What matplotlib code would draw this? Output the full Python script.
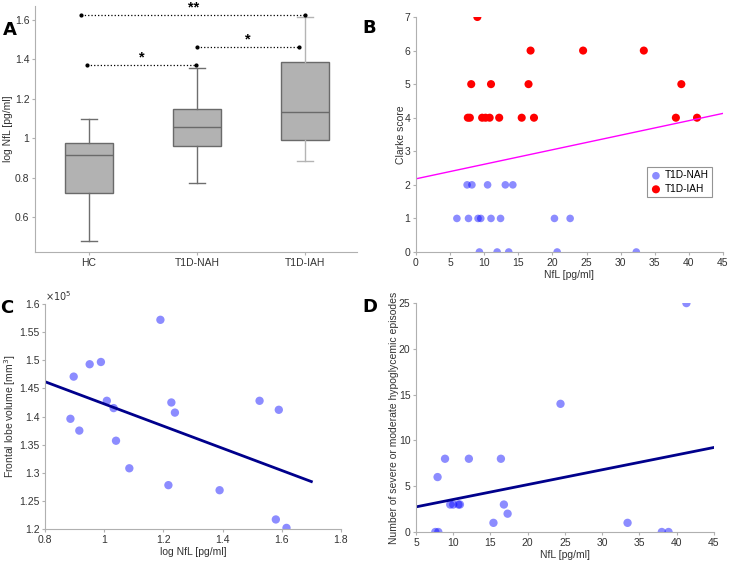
"""
NfL figure: boxplot (A), Clarke score (B), frontal lobe volume (C), hypo episodes (D)
"""
import numpy as np
import matplotlib
matplotlib.use("Agg")
from matplotlib import pyplot as plt
from matplotlib.ticker import FuncFormatter

plt.rcParams.update({'font.family': ['Liberation Sans', 'DejaVu Sans']})
plt.rcParams.update({'font.size': 7.5})
plt.rcParams.update({'axes.edgecolor': '#b0b0b0'})
plt.rcParams.update({'xtick.color': '#b0b0b0', 'ytick.color': '#b0b0b0'})
plt.rcParams.update({'xtick.labelcolor': '#333333', 'ytick.labelcolor': '#333333'})
plt.rcParams.update({'xtick.major.size': 2.5, 'ytick.major.size': 2.5})
plt.rcParams.update({'xtick.major.pad': 2, 'ytick.major.pad': 1.5})
plt.rcParams.update({'axes.labelcolor': '#333333', 'axes.labelpad': 2})

# ---- panel A: log NfL per group
groups = ['HC', 'T1D-NAH', 'T1D-IAH']
q1 = [0.72, 0.96, 0.99]
med = [0.915, 1.055, 1.135]
q3 = [0.975, 1.15, 1.385]
wlo = [0.48, 0.775, 0.885]
whi = [1.095, 1.355, 1.615]
whisker_grey = ['#6e6e6e', '#6e6e6e', '#b4b4b4']
# significance bars: (x start, x end, y, label)
sig_x0 = [0.98, 2.0, 0.93]
sig_x1 = [1.99, 2.94, 3.0]
sig_y = [1.37, 1.46, 1.625]
sig_lab = ['*', '*', '**']

# ---- panel B: Clarke score vs NfL
nah_nfl = [7.5, 8.2, 10.5, 13.1, 14.2,
           6.0, 7.7, 9.1, 9.5, 11.0, 12.4, 20.3, 22.6,
           9.3, 11.9, 13.6, 20.7, 32.3]
nah_clarke = [2, 2, 2, 2, 2,
              1, 1, 1, 1, 1, 1, 1, 1,
              0, 0, 0, 0, 0]
iah_nfl = [9.0,
           16.8, 24.5, 33.4,
           8.1, 11.0, 16.5, 38.9,
           7.6, 7.9, 9.7, 10.2, 10.8, 12.2, 15.5, 17.3, 38.1, 41.2]
iah_clarke = [7,
              6, 6, 6,
              5, 5, 5, 5,
              4, 4, 4, 4, 4, 4, 4, 4, 4, 4]
fit_b = [2.18, 0.0433]   # intercept, slope

# ---- panel C: frontal lobe volume vs log NfL
log_nfl_c = [1.19, 0.989, 0.951, 0.897, 1.009, 1.032, 0.886, 0.916, 1.040,
             1.085, 1.227, 1.239, 1.217, 1.390, 1.525, 1.590, 1.580, 1.616]
volume_c = [1.572, 1.497, 1.493, 1.471, 1.428, 1.415, 1.396, 1.375, 1.357,
            1.308, 1.425, 1.407, 1.278, 1.269, 1.428, 1.412, 1.217, 1.202]
volume_c = [v * 1e5 for v in volume_c]
fit_c = [1.6198e5, -0.1973e5]
fit_c_range = [0.8, 1.7]

# ---- panel D: hypoglycemic episodes vs NfL
nfl_d = [41.3, 24.4, 8.9, 12.1, 16.4, 7.9, 9.6, 10.0, 10.7, 10.9,
         16.8, 17.3, 15.4, 33.4, 7.6, 8.0, 38.0, 38.9]
episodes_d = [25, 14, 8, 8, 8, 6, 3, 3, 3, 3,
              3, 2, 1, 1, 0, 0, 0, 0]
fit_d = [1.93, 0.1623]
fit_d_range = [5, 45]

blue = (0.0, 0.0, 1.0, 0.45)
navy = (0.0, 0.0, 0.55)

fig = plt.figure(figsize=(7.29, 5.61), dpi=100)
axA = fig.add_axes([0.048, 0.551, 0.4417, 0.4385])
axB = fig.add_axes([0.5706, 0.5508, 0.4211, 0.4189])
axC = fig.add_axes([0.0617, 0.057, 0.406, 0.401])
axD = fig.add_axes([0.5706, 0.0517, 0.4088, 0.408])

for ax in (axA, axB, axC, axD):
    ax.spines['top'].set_visible(False)
    ax.spines['right'].set_visible(False)

# A
stats = [{'q1': q1[i], 'med': med[i], 'q3': q3[i], 'whislo': wlo[i],
          'whishi': whi[i], 'fliers': [], 'label': groups[i]} for i in range(3)]
pos = np.arange(1, 4)
bp = axA.bxp(stats, positions=pos, widths=0.45, patch_artist=True,
             showfliers=False, showcaps=True,
             boxprops={'facecolor': '#b2b2b2', 'edgecolor': '#6a6a6a', 'linewidth': 1},
             medianprops={'color': '#6a6a6a', 'linewidth': 1})
for i in range(3):
    for ln in bp['whiskers'][2 * i:2 * i + 2] + bp['caps'][2 * i:2 * i + 2]:
        ln.set_color(whisker_grey[i])
        ln.set_linewidth(1)
    bp['caps'][2 * i].set_xdata([pos[i] - 0.075, pos[i] + 0.075])
    bp['caps'][2 * i + 1].set_xdata([pos[i] - 0.075, pos[i] + 0.075])
for x0, x1, y, lab in zip(sig_x0, sig_x1, sig_y, sig_lab):
    axA.plot([x0, x1], [y, y], ':', color='k', lw=0.9, marker='.', markersize=4)
    axA.text((x0 + x1) / 2, y + 0.004, lab, ha='center', va='bottom',
             fontsize=10.5, fontweight='bold')
axA.set_xlim(0.5, 3.48)
axA.set_ylim(0.424, 1.67)
axA.set_yticks([0.6, 0.8, 1.0, 1.2, 1.4, 1.6])
axA.set_yticklabels(['0.6', '0.8', '1', '1.2', '1.4', '1.6'])
axA.set_ylabel('log NfL [pg/ml]', labelpad=1)

# B
axB.scatter(nah_nfl, nah_clarke, s=30, color=blue, edgecolors='none', label='T1D-NAH')
axB.scatter(iah_nfl, iah_clarke, s=34, color='red', edgecolors='none', label='T1D-IAH')
xb = np.array([0, 45])
axB.plot(xb, fit_b[0] + fit_b[1] * xb, color='magenta', lw=1)
axB.set_xlim(0, 45)
axB.set_ylim(0, 7)
axB.set_xticks(np.arange(0, 46, 5))
axB.set_yticks(np.arange(0, 8))
axB.set_xlabel('NfL [pg/ml]', labelpad=1)
axB.set_ylabel('Clarke score', labelpad=-1)
leg = axB.legend(loc='lower left', bbox_to_anchor=(0.752, 0.234), fontsize=7.3,
                 frameon=True, fancybox=False, handletextpad=0.3,
                 borderpad=0.3, borderaxespad=0, handlelength=1.2,
                 labelspacing=0.35)
leg.get_frame().set_edgecolor('#7a7a7a')
leg.get_frame().set_linewidth(0.8)

# C
axC.scatter(log_nfl_c, volume_c, s=36, color=blue, edgecolors='none')
xc = np.array(fit_c_range)
axC.plot(xc, fit_c[0] + fit_c[1] * xc, color=navy, lw=2)
axC.set_xlim(0.8, 1.8)
axC.set_ylim(1.2e5, 1.6e5)
axC.set_xticks([0.8, 1.0, 1.2, 1.4, 1.6, 1.8])
axC.set_xticklabels(['0.8', '1', '1.2', '1.4', '1.6', '1.8'])
axC.set_yticks(np.arange(1.2e5, 1.6001e5, 0.05e5))
axC.yaxis.set_major_formatter(FuncFormatter(lambda v, _: f"{v / 1e5:g}"))
axC.text(0.0, 1.005, r'$\times10^5$', transform=axC.transAxes, fontsize=7,
         color='#333333', ha='left', va='bottom')
axC.set_xlabel('log NfL [pg/ml]', labelpad=1)
axC.set_ylabel(r'Frontal lobe volume [mm$^3$]', labelpad=1)

# D
axD.scatter(nfl_d, episodes_d, s=36, color=blue, edgecolors='none')
xd = np.array(fit_d_range)
axD.plot(xd, fit_d[0] + fit_d[1] * xd, color=navy, lw=2)
axD.set_xlim(5, 45)
axD.set_ylim(0, 25)
axD.set_xticks(np.arange(5, 46, 5))
axD.set_yticks(np.arange(0, 26, 5))
axD.set_xlabel('NfL [pg/ml]', labelpad=1)
axD.set_ylabel('Number of severe or moderate hypoglycemic episodes', labelpad=0)

# panel letters
for x, y, s in [(0.004, 0.938, 'A'), (0.497, 0.941, 'B'),
                (0.0, 0.442, 'C'), (0.497, 0.444, 'D')]:
    fig.text(x, y, s, fontsize=13, fontweight='bold', family='DejaVu Sans')

plt.savefig("out.png", dpi=100)
